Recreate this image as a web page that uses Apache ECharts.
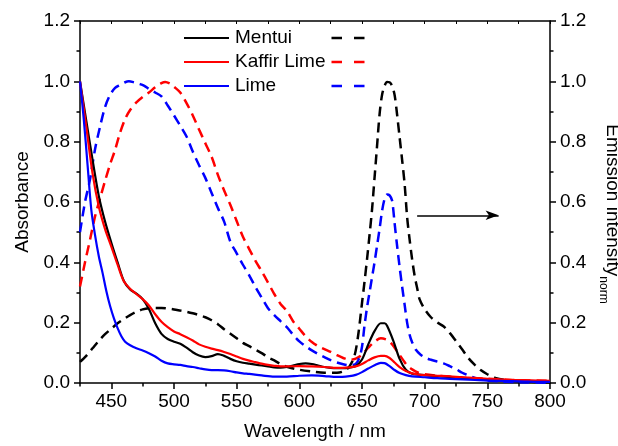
<!DOCTYPE html>
<html>
<head>
<meta charset="utf-8">
<script src="https://cdn.jsdelivr.net/npm/echarts@6/dist/echarts.min.js"></script>
<style>
  html, body { margin: 0; padding: 0; background: #fff; }
  #chart { width: 618px; height: 446px; }
</style>
</head>
<body>
<div id="chart"></div>
<script>
// Sample names and line colours
const sampleNames = ['Mentui', 'Kaffir Lime', 'Lime'];
const sampleColors = ['#000000', '#ff0000', '#0000ff'];

// Absorbance spectra (left axis), wavelength in nm
const absMentuiNm = [425,430,435,440,445,450,455,460,465,470,475,480,485,490,495,500,505,510,515,520,525,530,535,540,545,550,555,560,565,570,575,580,585,590,595,600,605,610,615,620,625,630,635,640,645,650,655,660,665,668,670,675,680,685,690,695,700,710,720,730,740,750,760,770,780,790,800];
const absMentui   = [1.00,0.87,0.74,0.62,0.535,0.465,0.40,0.338,0.31,0.296,0.278,0.245,0.198,0.163,0.146,0.137,0.130,0.117,0.102,0.091,0.086,0.089,0.096,0.090,0.080,0.072,0.067,0.064,0.061,0.058,0.055,0.052,0.051,0.053,0.058,0.063,0.065,0.063,0.058,0.053,0.050,0.049,0.049,0.051,0.056,0.078,0.128,0.172,0.198,0.198,0.190,0.140,0.080,0.044,0.031,0.028,0.026,0.023,0.020,0.017,0.014,0.011,0.009,0.007,0.006,0.005,0.004];

const absKaffirNm = [425,430,435,440,445,450,455,460,465,470,475,480,485,490,495,500,505,510,515,520,525,530,535,540,545,550,555,560,565,570,575,580,585,590,600,610,620,630,640,645,650,655,660,665,668,672,676,680,685,690,695,700,710,720,730,740,750,760,770,780,790,800];
const absKaffir   = [1.00,0.85,0.695,0.585,0.51,0.452,0.392,0.337,0.312,0.295,0.278,0.257,0.228,0.203,0.185,0.171,0.162,0.152,0.141,0.128,0.120,0.114,0.109,0.103,0.096,0.088,0.080,0.074,0.069,0.064,0.060,0.057,0.055,0.055,0.056,0.055,0.053,0.050,0.052,0.055,0.063,0.075,0.085,0.090,0.090,0.083,0.068,0.053,0.040,0.032,0.028,0.026,0.024,0.022,0.019,0.017,0.014,0.012,0.010,0.009,0.008,0.007];

const absLimeNm = [425,428,431,434,437,440,443,446,449,452,455,458,461,465,470,475,480,485,490,495,500,505,510,515,520,525,530,535,540,545,550,555,560,570,580,590,600,610,620,630,640,645,650,655,660,665,668,672,676,680,685,690,700,710,720,730,740,750,760,770,780,790,800];
const absLime   = [1.00,0.875,0.725,0.575,0.49,0.42,0.365,0.305,0.255,0.215,0.182,0.155,0.137,0.125,0.115,0.108,0.099,0.088,0.074,0.065,0.062,0.060,0.056,0.053,0.049,0.045,0.043,0.043,0.042,0.039,0.035,0.032,0.030,0.025,0.021,0.021,0.024,0.025,0.023,0.020,0.023,0.027,0.036,0.048,0.059,0.067,0.066,0.056,0.043,0.033,0.026,0.022,0.019,0.016,0.014,0.012,0.010,0.008,0.007,0.006,0.005,0.004,0.004];

// Normalised emission spectra (right axis)
const emMentuiNm = [425,430,435,440,445,450,455,460,465,470,475,480,485,490,495,500,505,510,515,520,525,530,535,540,545,550,555,560,565,570,575,580,585,590,600,610,620,630,636,640,644,647,650,652,654,656,658,660,662,664,666,668,670,672,674,676,678,680,682,684,686,688,690,692,694,696,700,705,710,715,720,725,730,735,740,745,750,757,765,775,785,800];
const emMentui   = [0.070,0.090,0.115,0.140,0.162,0.180,0.198,0.212,0.225,0.236,0.244,0.248,0.249,0.249,0.247,0.244,0.240,0.236,0.231,0.225,0.218,0.208,0.195,0.178,0.163,0.148,0.133,0.122,0.110,0.099,0.085,0.075,0.063,0.054,0.044,0.038,0.034,0.034,0.040,0.055,0.090,0.160,0.265,0.335,0.410,0.490,0.575,0.680,0.785,0.890,0.955,0.985,0.998,0.997,0.985,0.955,0.890,0.815,0.740,0.660,0.550,0.475,0.410,0.355,0.315,0.277,0.245,0.218,0.201,0.188,0.166,0.139,0.111,0.082,0.060,0.042,0.029,0.016,0.010,0.006,0.004,0.002];

const emKaffirNm = [425,429,433,437,441,445,449,453,457,461,465,470,475,480,485,490,493,497,500,505,510,515,520,525,530,535,540,545,550,555,560,565,570,575,580,585,590,595,600,605,610,615,620,625,630,635,640,645,650,655,660,665,670,673,676,680,683,686,690,695,700,710,720,730,740,750,760,770,780,790,800];
const emKaffir   = [0.320,0.400,0.475,0.552,0.612,0.670,0.725,0.773,0.830,0.875,0.905,0.930,0.948,0.963,0.980,0.994,0.998,0.992,0.982,0.963,0.928,0.887,0.840,0.795,0.750,0.690,0.638,0.590,0.537,0.485,0.444,0.405,0.370,0.333,0.295,0.262,0.239,0.205,0.180,0.155,0.136,0.122,0.112,0.103,0.092,0.083,0.077,0.081,0.094,0.117,0.137,0.148,0.143,0.133,0.117,0.093,0.075,0.058,0.045,0.034,0.029,0.024,0.021,0.018,0.016,0.014,0.012,0.010,0.009,0.008,0.007];

const emLimeNm = [425,429,433,437,441,445,449,453,457,461,464,468,472,476,480,485,490,495,500,505,510,515,520,525,530,535,540,545,550,555,560,565,570,575,580,585,590,595,600,605,610,615,620,625,630,635,640,645,648,650,652,654,656,658,660,662,664,666,668,670,672,674,676,678,680,682,684,686,688,690,693,697,701,705,710,715,720,725,730,735,740,745,750,760,770,780,800];
const emLime   = [0.50,0.60,0.675,0.775,0.850,0.915,0.955,0.978,0.988,0.997,1.000,0.997,0.992,0.986,0.975,0.963,0.950,0.920,0.887,0.853,0.817,0.767,0.722,0.680,0.630,0.580,0.535,0.468,0.430,0.392,0.357,0.318,0.283,0.248,0.225,0.205,0.185,0.160,0.138,0.122,0.108,0.096,0.086,0.076,0.068,0.062,0.059,0.063,0.085,0.120,0.190,0.250,0.300,0.350,0.400,0.455,0.510,0.570,0.610,0.625,0.622,0.605,0.530,0.455,0.385,0.320,0.260,0.200,0.160,0.135,0.110,0.093,0.083,0.077,0.071,0.065,0.056,0.046,0.034,0.025,0.017,0.012,0.008,0.005,0.003,0.002,0.001];

// Axis tick values
const xMajorTicks = [450, 500, 550, 600, 650, 700, 750, 800];
const xMinorTicks = [425, 475, 525, 575, 625, 675, 725, 775];
const xAllTicks = [425,450,475,500,525,550,575,600,625,650,675,700,725,750,775,800];

const zip = (xs, ys) => xs.map((x, i) => [x, ys[i]]);

const FONT = 'Liberation Sans, Arial, sans-serif';
const AXIS_COLOR = '#000';

const chart = echarts.init(document.getElementById('chart'), null, { renderer: 'canvas' });

const absSets = [zip(absMentuiNm, absMentui), zip(absKaffirNm, absKaffir), zip(absLimeNm, absLime)];
const emSets = [zip(emMentuiNm, emMentui), zip(emKaffirNm, emKaffir), zip(emLimeNm, emLime)];

const series = [];
emSets.forEach((d, i) => {
  series.push({
    name: sampleNames[i] + ' emission',
    type: 'line',
    xAxisIndex: 0,
    yAxisIndex: 1,
    data: d,
    showSymbol: false,
    smooth: 0.3,
    z: 2,
    lineStyle: { color: sampleColors[i], width: 2.5, type: [10, 6] }
  });
});
absSets.forEach((d, i) => {
  series.push({
    name: sampleNames[i],
    type: 'line',
    xAxisIndex: 0,
    yAxisIndex: 0,
    data: d,
    showSymbol: false,
    smooth: 0.3,
    z: 3,
    lineStyle: { color: sampleColors[i], width: 2.2 }
  });
});
// Arrow pointing toward the emission axis
series[0].markLine = {
  silent: true,
  symbol: ['none', 'arrow'],
  symbolSize: [7, 13],
  label: { show: false },
  lineStyle: { color: '#000', width: 1.5, type: 'solid' },
  data: [[{ coord: [694, 0.556] }, { coord: [759, 0.556] }]]
};

// Legend: solid absorbance line, name, dashed emission line
const legendGraphics = [];
sampleNames.forEach((name, i) => {
  const y = 38 + i * 24;
  legendGraphics.push({
    type: 'line', shape: { x1: 184, y1: y, x2: 229, y2: y },
    style: { stroke: sampleColors[i], lineWidth: 2 }, silent: true
  });
  legendGraphics.push({
    type: 'text', x: 235, y: y,
    style: { text: name, font: '19px ' + FONT, fill: '#000', textVerticalAlign: 'middle', verticalAlign: 'middle' },
    silent: true
  });
  legendGraphics.push({
    type: 'line', shape: { x1: 331.5, y1: y, x2: 366, y2: y },
    style: { stroke: sampleColors[i], lineWidth: 2.5, lineDash: [10.5, 12] }, silent: true
  });
});

const yBase = {
  type: 'value', min: 0, max: 1.2, interval: 0.2,
  axisLine: { show: true, onZero: false, lineStyle: { color: AXIS_COLOR, width: 1.5 } },
  axisTick: { show: true, length: 6, lineStyle: { color: AXIS_COLOR, width: 1.5 } },
  minorTick: { show: true, splitNumber: 2, length: 3.5, lineStyle: { color: AXIS_COLOR, width: 1.5 } },
  splitLine: { show: false },
  axisLabel: { color: '#000', fontSize: 19, fontFamily: FONT, margin: 10, formatter: v => v.toFixed(1) }
};

const option = {
  animation: false,
  backgroundColor: '#fff',
  grid: { left: 80, right: 68, top: 21, bottom: 63, containLabel: false, outerBoundsMode: 'none' },
  xAxis: [
    {
      type: 'value', min: 425, max: 800, position: 'bottom',
      name: 'Wavelength / nm', nameLocation: 'middle', nameGap: 39,
      nameTextStyle: { color: '#000', fontSize: 19, fontFamily: FONT },
      axisLine: { show: true, onZero: false, lineStyle: { color: AXIS_COLOR, width: 1.5 } },
      axisTick: { show: true, length: 6, customValues: xMajorTicks, lineStyle: { color: AXIS_COLOR, width: 1.5 } },
      axisLabel: { color: '#000', fontSize: 19, fontFamily: FONT, margin: 9, customValues: xMajorTicks, showMinLabel: true, showMaxLabel: true },
      splitLine: { show: false }
    },
    {
      type: 'value', min: 425, max: 800, position: 'bottom',
      axisLine: { show: false, onZero: false },
      axisTick: { show: true, length: 3.5, customValues: xMinorTicks, lineStyle: { color: AXIS_COLOR, width: 1.5 } },
      axisLabel: { show: false },
      splitLine: { show: false }
    },
    {
      type: 'value', min: 425, max: 800, position: 'top',
      axisLine: { show: true, onZero: false, lineStyle: { color: AXIS_COLOR, width: 1.5 } },
      axisTick: { show: true, inside: true, length: 3, customValues: xAllTicks, lineStyle: { color: AXIS_COLOR, width: 1 } },
      axisLabel: { show: false },
      splitLine: { show: false }
    }
  ],
  yAxis: [
    Object.assign({}, yBase, {
      position: 'left',
      name: 'Absorbance', nameLocation: 'middle', nameGap: 48,
      nameTextStyle: { color: '#000', fontSize: 19, fontFamily: FONT }
    }),
    Object.assign({}, yBase, {
      position: 'right',
      name: '{m|Emission intensity}{s|norm}', nameLocation: 'middle', nameGap: 46, nameRotate: -90,
      nameTextStyle: {
        color: '#000', fontFamily: FONT, padding: [0, 0, 0, 24],
        rich: {
          m: { fontSize: 19, fontFamily: FONT, color: '#000', lineHeight: 24, verticalAlign: 'top' },
          s: { fontSize: 12, fontFamily: FONT, color: '#000', lineHeight: 24, verticalAlign: 'bottom' }
        }
      }
    })
  ],
  graphic: legendGraphics,
  series: series
};

chart.setOption(option);
</script>
</body>
</html>
